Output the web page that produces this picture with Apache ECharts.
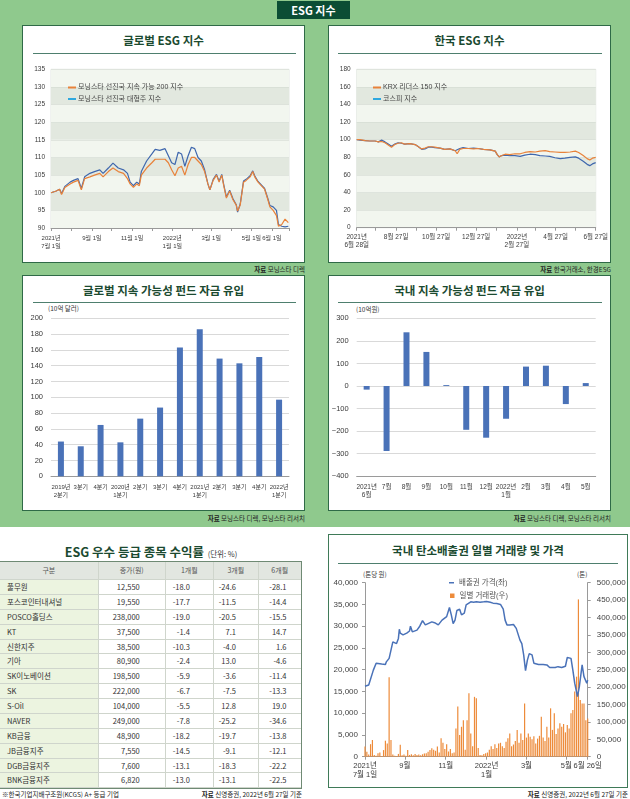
<!DOCTYPE html>
<html><head><meta charset="utf-8">
<script src="https://cdn.jsdelivr.net/npm/echarts@6/dist/echarts.min.js"></script>
<style>
body{margin:0;width:630px;height:799px;position:relative;overflow:hidden;background:#fff;font-family:'Noto Sans CJK KR',sans-serif;}
.abs{position:absolute;}
.green{left:0;top:0;width:630px;height:527px;background:#8fc98d;}
.banner{left:277px;top:1px;width:73px;height:18px;background:#0b4d34;color:#fff;font-weight:700;font-size:11px;line-height:18px;text-align:center;}
.box{background:#fff;border:1.5px solid #2f6a47;box-sizing:border-box;}
.ttl{font-weight:700;font-size:11.5px;color:#1b4a30;text-align:center;line-height:14px;}
.rule{height:1px;background:#4e7f6e;}
.src{font-size:6.5px;color:#222;text-align:right;line-height:8px;white-space:nowrap;}
.unit{font-size:6.5px;color:#333;line-height:8px;white-space:nowrap;}
#chart{left:0;top:0;width:630px;height:799px;}
table{border-collapse:collapse;table-layout:fixed;font-size:7.5px;color:#333;}
td,th{padding:0;border-bottom:1px solid #cfd5cc;border-left:1px solid #cfd5cc;white-space:nowrap;font-weight:400;overflow:hidden;}
td{height:13.87px;line-height:13.87px;}
th{background:#e2e6e0;height:17px;line-height:17px;color:#555;font-size:7px;text-align:center;}
td.nm{background:#ecf4e0;text-align:left;padding-left:7px;border-left:none;}
th.nm{border-left:none;}
td.num{text-align:right;}
</style></head>
<body>
<div class="abs green"></div>
<div class="abs banner">ESG 지수</div>

<div class="abs box" style="left:22px;top:25px;width:283px;height:238px"></div>
<div class="abs ttl" style="left:22px;top:33px;width:283px">글로벌 ESG 지수</div>
<div class="abs rule" style="left:33px;top:53px;width:263px"></div>
<div class="abs src" style="left:105px;top:265px;width:200px"><b>자료</b> 모닝스타 디렉</div>

<div class="abs box" style="left:328px;top:25px;width:283px;height:238px"></div>
<div class="abs ttl" style="left:328px;top:33px;width:283px">한국 ESG 지수</div>
<div class="abs rule" style="left:338px;top:53px;width:264px"></div>
<div class="abs src" style="left:411px;top:265px;width:200px"><b>자료</b> 한국거래소, 한경ESG</div>

<div class="abs box" style="left:22px;top:275px;width:283px;height:236px"></div>
<div class="abs ttl" style="left:22px;top:283px;width:283px">글로벌 지속 가능성 펀드 자금 유입</div>
<div class="abs rule" style="left:33px;top:302px;width:263px"></div>
<div class="abs unit" style="left:48px;top:304px">(10억 달러)</div>
<div class="abs src" style="left:105px;top:514px;width:200px"><b>자료</b> 모닝스타 디렉, 모닝스타 리서치</div>

<div class="abs box" style="left:328px;top:275px;width:283px;height:236px"></div>
<div class="abs ttl" style="left:328px;top:283px;width:283px">국내 지속 가능성 펀드 자금 유입</div>
<div class="abs rule" style="left:338px;top:302px;width:264px"></div>
<div class="abs unit" style="left:356px;top:305px">(10억원)</div>
<div class="abs src" style="left:411px;top:514px;width:200px"><b>자료</b> 모닝스타 디렉, 모닝스타 리서치</div>

<div class="abs" style="left:0;top:542px;width:302px;text-align:center;white-space:nowrap;line-height:16px"><span style="font-weight:700;font-size:12.5px;color:#1b4a30">ESG 우수 등급 종목 수익률</span> <span style="font-size:7.5px;color:#333">(단위: %)</span></div>
<div class="abs" id="tbl" style="left:0;top:561px;width:302px;border-top:1.5px solid #6f8a74;border-right:1.5px solid #6f8a74;border-bottom:1.5px solid #6f8a74;box-sizing:border-box"></div>
<div class="abs src" style="left:2px;top:790px;text-align:left">※한국기업지배구조원(KCGS) A+ 등급 기업</div>
<div class="abs src" style="left:102px;top:790px;width:200px"><b>자료</b> 신영증권, 2022년 6월 27일 기준</div>

<div class="abs box" style="left:328px;top:534px;width:300px;height:254px;border-color:#3f7a58"></div>
<div class="abs ttl" style="left:328px;top:543px;width:300px">국내 탄소배출권 일별 거래량 및 가격</div>
<div class="abs rule" style="left:338px;top:563px;width:280px"></div>
<div class="abs unit" style="left:363px;top:570px">(톤당 원)</div>
<div class="abs unit" style="left:577px;top:570px">(톤)</div>
<div class="abs src" style="left:428px;top:790px;width:200px"><b>자료</b> 신영증권, 2022년 6월 27일 기준</div>

<div class="abs" id="chart"></div>

<script>
// ---------- Chart 1: 글로벌 ESG 지수 ----------
const g1Dates = ['2021-07-01','2021-07-09','2021-07-14','2021-07-17','2021-07-22','2021-07-30','2021-08-04','2021-08-11','2021-08-16','2021-08-21','2021-08-29','2021-09-05','2021-09-13','2021-09-18','2021-09-26','2021-10-03','2021-10-11','2021-10-19','2021-10-25','2021-10-29','2021-11-03','2021-11-08','2021-11-12','2021-11-15','2021-11-23','2021-12-01','2021-12-06','2021-12-13','2021-12-21','2021-12-26','2021-12-31','2022-01-05','2022-01-10','2022-01-15','2022-01-20','2022-01-25','2022-01-30','2022-02-04','2022-02-09','2022-02-14','2022-02-19','2022-02-24','2022-02-27','2022-03-04','2022-03-09','2022-03-13','2022-03-17','2022-03-20','2022-03-24','2022-03-29','2022-04-03','2022-04-08','2022-04-10','2022-04-14','2022-04-17','2022-04-19','2022-04-23','2022-04-29','2022-05-03','2022-05-06','2022-05-11','2022-05-16','2022-05-21','2022-05-26','2022-05-29','2022-06-03','2022-06-08','2022-06-11','2022-06-16','2022-06-21','2022-06-26'];
const g1Sustain200 = [100.0,100.5,101.0,99.5,101.5,102.5,103.0,103.5,100.8,104.0,104.5,105.0,105.5,104.5,106.0,107.0,106.0,105.5,104.0,102.5,101.5,102.5,102.0,105.0,107.0,108.5,109.5,109.5,109.5,108.5,106.5,104.8,107.0,107.5,105.0,108.0,110.0,110.0,109.0,108.0,106.0,102.5,100.8,103.5,105.0,103.0,105.0,102.0,98.5,100.5,98.0,96.5,94.8,96.5,97.0,103.0,103.5,104.5,106.0,104.5,103.0,102.0,101.0,98.0,96.0,95.0,93.5,90.5,91.0,92.5,91.5];
const g1LargeCap = [100.0,100.5,101.0,99.8,101.8,103.0,103.5,104.0,101.2,104.5,105.5,106.0,106.5,105.5,107.0,108.4,107.0,106.5,105.5,103.0,102.0,103.0,102.5,106.0,109.0,111.0,112.3,112.0,112.5,110.5,108.5,108.0,111.5,111.0,107.5,110.5,112.9,112.5,110.0,109.0,106.5,102.5,100.8,103.8,105.2,103.3,105.2,102.3,98.8,100.7,98.3,96.6,94.5,96.8,97.2,103.3,103.8,104.8,106.2,104.8,103.2,102.2,101.2,98.3,96.4,96.0,95.0,91.0,90.5,90.3,90.5];
const g1TickDates = ['2021-07-01','2021-08-01','2021-09-01','2021-10-01','2021-11-01','2021-12-01','2022-01-01','2022-02-01','2022-03-01','2022-04-01','2022-05-01','2022-06-01','2022-06-27'];
const g1LabelDates = ['2021-07-01','2021-09-01','2021-11-01','2022-01-01','2022-03-01','2022-05-01','2022-06-01','2022-06-27'];
const g1Labels = ['2021년\n7월 1일','9월 1일','11월 1일','2022년\n1월 1일','3월 1일','5월 1일','6월 1일',''];
const g1Names = ['모닝스타 선진국 지속 가능 200 지수','모닝스타 선진국 대형주 지수'];

// ---------- Chart 2: 한국 ESG 지수 ----------
const k2Dates = ['2021-06-28','2021-07-03','2021-07-11','2021-07-18','2021-07-26','2021-07-31','2021-08-05','2021-08-10','2021-08-15','2021-08-20','2021-08-25','2021-08-30','2021-09-04','2021-09-09','2021-09-17','2021-09-25','2021-09-30','2021-10-05','2021-10-10','2021-10-15','2021-10-20','2021-10-25','2021-11-02','2021-11-09','2021-11-17','2021-11-25','2021-11-28','2021-12-02','2021-12-07','2021-12-15','2021-12-23','2021-12-30','2022-01-07','2022-01-17','2022-01-25','2022-01-28','2022-01-31','2022-02-04','2022-02-09','2022-02-16','2022-02-24','2022-03-04','2022-03-11','2022-03-19','2022-03-27','2022-04-03','2022-04-11','2022-04-18','2022-04-26','2022-05-04','2022-05-11','2022-05-19','2022-05-27','2022-06-01','2022-06-08','2022-06-14','2022-06-18','2022-06-22','2022-06-27'];
const k2Leaders150 = [100,100,99,98.5,98.5,97.5,98,96.5,94,91.5,94.5,96,96.5,95,95.5,94.5,92,89.5,90.5,92,92,91.5,90.5,89,89.5,87.5,84,89,90,90,89.5,90,89,88.5,87,83,80.5,82,83.5,83,84,84,85.5,86.5,86,87,87.5,86.5,86,85.5,85.5,86,87,85.5,82,78.5,77,79,80];
const k2Kospi = [100,99.5,99,98.5,98.5,97.5,99.5,97.5,95,92.5,95,96.5,96,95,95.5,94.5,92,89,89.5,91.5,91.5,91,90.5,89,89.5,87.5,86.5,90,91,90,90.5,90,89,88.5,87,83,80.5,82,82.5,82,82,81,82.5,83.5,83,82,81.5,81,79.5,78.5,79,80,80.5,79,75.5,72,70.5,72.5,74];
const k2TickDates = ['2021-06-28','2021-07-27','2021-08-27','2021-09-27','2021-10-27','2021-11-27','2021-12-27','2022-01-27','2022-02-27','2022-03-27','2022-04-27','2022-05-27','2022-06-27'];
const k2LabelDates = ['2021-06-28','2021-08-27','2021-10-27','2021-12-27','2022-02-27','2022-04-27','2022-06-27'];
const k2Labels = ['2021년\n6월 28일','8월 27일','10월 27일','12월 27일','2022년\n2월 27일','4월 27일','6월 27일'];
const k2Names = ['KRX 리더스 150 지수','코스피 지수'];

// ---------- Chart 3: 글로벌 지속 가능성 펀드 자금 유입 ----------
const gfCategories = ['2019년\n2분기','3분기','4분기','2020년\n1분기','2분기','3분기','4분기','2021년\n1분기','2분기','3분기','4분기','2022년\n1분기'];
const gfInflow = [44,38,65,43,73,87,163,186,149,143,151,97];

// ---------- Chart 4: 국내 지속 가능성 펀드 자금 유입 ----------
const dfCategories = ['2021년\n6월','7월','8월','9월','10월','11월','12월','2022년\n1월','2월','3월','4월','5월'];
const dfInflow = [-16,-288,238,151,4,-194,-229,-145,86,90,-80,13];

// ---------- Chart 6: 국내 탄소배출권 ----------
// x = trading-day index from 2021-07-01
const cPriceIdx = [0,4,6,9,12,14,18,22,23,26,28,30,32,34,36,37,38,41,45,48,49,51,56,59,62,65,68,72,75,79,83,85,88,91,93,95,97,99,102,104,107,109,111,114,117,120,124,128,131,135,138,142,146,149,151,153,156,160,163,167,169,171,173,175,177,180,182,187,192,196,199,201,205,208,212,216,218,222,224,226,229,231,234,236,239,240];
const cPrice = [16200,16500,16900,19900,21500,21800,21300,21200,21800,22600,22800,26400,26700,26000,27200,29300,28400,28000,28400,28900,30000,28700,29100,30000,31300,30300,30600,31000,30800,30300,31400,31600,32200,34300,32600,30600,31400,33600,33900,32600,33000,34900,35200,35600,35500,35600,35500,35600,35700,35500,35300,35200,35000,33900,31400,30300,30300,30400,29500,26800,26000,23400,19800,22200,23700,23400,21500,21200,21200,21100,20500,20800,20500,20700,20500,20800,22800,22600,19900,16900,13800,16100,21100,18400,16900,17600];
// one bar every 2 trading days (index 0,2,4,...,240), tons
const cVolume = [29000,14000,6000,36000,48000,5000,3000,10000,12000,2000,19000,46000,38000,228000,48000,6000,3000,2000,8000,34000,4000,6000,3000,19000,5000,7000,4000,8000,5000,6000,4000,7000,9000,10000,14000,19000,24000,20000,17000,29000,12000,53000,40000,22000,36000,15000,22000,10000,12000,81000,144000,62000,86000,105000,20000,105000,182000,67000,30000,172000,168000,25000,5000,4000,8000,10000,12000,20000,30000,22000,36000,25000,38000,40000,30000,25000,43000,53000,67000,30000,35000,45000,77000,40000,67000,48000,153000,55000,67000,57000,50000,59000,38000,52000,60000,115000,55000,45000,86000,55000,139000,77000,125000,65000,81000,96000,86000,94000,70000,91000,81000,125000,134000,187000,230000,452000,163000,153000,153000,105000,110000];
const cTickIdx = [0,43,87,131,174,217,240];
const cTickLabels = ['2021년\n7월 1일','9월','11월','2022년\n1월','3월','5월','6월 26일'];
const cNames = ['배출권 가격(좌)','일별 거래량(우)'];

// ---------- Table ----------
const tHeader = ['구분','종가(원)','1개월','3개월','6개월'];
const tNames = ['풀무원','포스코인터내셔널','POSCO홀딩스','KT','신한지주','기아','SK이노베이션','SK','S-Oil','NAVER','KB금융','JB금융지주','DGB금융지주','BNK금융지주'];
const tClose = ['12,550','19,550','238,000','37,500','38,500','80,900','198,500','222,000','104,000','249,000','48,900','7,550','7,600','6,820'];
const tRet1m = [-18.0,-17.7,-19.0,-1.4,-10.3,-2.4,-5.9,-6.7,-5.5,-7.8,-18.2,-14.5,-13.1,-13.0];
const tRet3m = [-24.6,-11.5,-20.5,7.1,-4.0,13.0,-3.6,-7.5,12.8,-25.2,-19.7,-9.1,-18.3,-13.1];
const tRet6m = [-28.1,-14.4,-15.5,14.7,1.6,-4.6,-11.4,-13.3,19.0,-34.6,-13.8,-12.1,-22.2,-22.5];

(function(){
  const colW = [98,67,48,45,42];
  const padR = [0,25,23,22,14];
  let h = '<table style="width:300.5px"><colgroup>' + colW.map(w=>'<col style="width:'+w+'px">').join('') + '</colgroup>';
  h += '<tr>' + tHeader.map((t,i)=>'<th'+(i===0?' class="nm"':'')+'>'+t+'</th>').join('') + '</tr>';
  tNames.forEach((n,r)=>{
    const cells = [tClose[r], tRet1m[r].toFixed(1), tRet3m[r].toFixed(1), tRet6m[r].toFixed(1)];
    h += '<tr><td class="nm">'+n+'</td>' + cells.map((c,i)=>'<td class="num" style="padding-right:'+padR[i+1]+'px">'+c+'</td>').join('') + '</tr>';
  });
  h += '</table>';
  document.getElementById('tbl').innerHTML = h;
})();

const ts = s => { const p = s.split('-').map(Number); return new Date(p[0], p[1]-1, p[2]).getTime(); };
const lookup = (keys, labels) => { const m = new Map(); keys.forEach((k,i)=>m.set(k, labels[i])); return v => (m.has(v) ? m.get(v) : ''); };
const FONT = "'Liberation Sans','Noto Sans CJK KR',sans-serif";
const LBL = {fontSize:6.5, color:'#3a3a3a', fontFamily:FONT};
const comma = v => v.toLocaleString('en-US');

const g1TickTs = g1TickDates.map(ts), g1LabTs = g1LabelDates.map(ts);
const k2TickTs = k2TickDates.map(ts), k2LabTs = k2LabelDates.map(ts);

function lineAxisX(grid, minD, maxD, tickTs, labTs, labels, fs){
  return {type:'value', gridIndex:grid, min:ts(minD), max:ts(maxD), splitLine:{show:false},
    axisLine:{lineStyle:{color:'#9a9a9a', width:1}},
    axisTick:{show:true, customValues:tickTs, length:3, lineStyle:{color:'#9a9a9a'}},
    axisLabel:Object.assign({customValues:labTs, formatter:lookup(labTs, labels), margin:6, lineHeight:8, hideOverlap:false}, LBL, {fontSize:fs})};
}
function bandAxisY(grid, min, max, interval){
  return {type:'value', gridIndex:grid, min:min, max:max, interval:interval,
    axisLine:{show:false}, axisTick:{show:false},
    axisLabel:Object.assign({margin:6}, LBL),
    splitLine:{show:true, lineStyle:{color:'#d4dad2', width:0.6}},
    splitArea:{show:true, areaStyle:{color:['#f2f6ef','#e2e8df']}}};
}

const chart = echarts.init(document.getElementById('chart'), null, {renderer:'canvas'});
chart.setOption({
  animation:false,
  backgroundColor:'transparent',
  grid:[
    {left:51, top:69.3, width:238, height:158.7, show:true, borderColor:'#cfd5cc', borderWidth:0.6, backgroundColor:'transparent'},
    {left:356.7, top:69.3, width:239, height:158.4, show:true, borderColor:'#cfd5cc', borderWidth:0.6, backgroundColor:'transparent'},
    {left:51, top:318.3, width:238, height:158},
    {left:356.7, top:318.3, width:239, height:158},
    {left:365, top:582.7, width:222.7, height:174}
  ],
  legend:[
    {left:63, top:79, orient:'vertical', icon:'rect', itemWidth:8, itemHeight:2, itemGap:4.5, textStyle:{fontSize:7, color:'#444', fontFamily:FONT, padding:[0,0,0,-3]},
      data:[{name:g1Names[0], itemStyle:{color:'#e8823a'}},{name:g1Names[1], itemStyle:{color:'#2fa8df'}}]},
    {left:368, top:79, orient:'vertical', icon:'rect', itemWidth:8, itemHeight:2, itemGap:4.5, textStyle:{fontSize:7, color:'#444', fontFamily:FONT, padding:[0,0,0,-3]},
      data:[{name:k2Names[0], itemStyle:{color:'#e8823a'}},{name:k2Names[1], itemStyle:{color:'#2fa8df'}}]},
    {left:444, top:574, orient:'vertical', icon:'rect', itemWidth:5, itemHeight:1.5, textStyle:{fontSize:7.5, color:'#555', fontFamily:FONT}, data:[{name:cNames[0], itemStyle:{color:'#4a72b8'}}]},
    {left:445, top:587, orient:'vertical', icon:'rect', itemWidth:4.5, itemHeight:4.5, textStyle:{fontSize:7.5, color:'#555', fontFamily:FONT}, data:[{name:cNames[1], itemStyle:{color:'#ed8b3a'}}]}
  ],
  xAxis:[
    lineAxisX(0,'2021-07-01','2022-06-27', g1TickTs, g1LabTs, g1Labels, 6),
    lineAxisX(1,'2021-06-28','2022-06-27', k2TickTs, k2LabTs, k2Labels, 6.5),
    {type:'category', gridIndex:2, data:gfCategories, axisLine:{lineStyle:{color:'#9a9a9a'}}, axisTick:{length:4, lineStyle:{color:'#9a9a9a'}}, axisLabel:Object.assign({margin:7, lineHeight:8, interval:0}, LBL, {fontSize:6})},
    {type:'category', gridIndex:3, data:dfCategories, position:'bottom', axisLine:{onZero:false, lineStyle:{color:'#9a9a9a'}}, axisTick:{length:4, lineStyle:{color:'#9a9a9a'}}, axisLabel:Object.assign({margin:7, lineHeight:8, interval:0}, LBL, {fontSize:6.5})},
    {type:'value', gridIndex:4, min:0, max:240, splitLine:{show:false}, axisLine:{lineStyle:{color:'#9a9a9a'}},
      axisTick:{customValues:cTickIdx, length:3, lineStyle:{color:'#9a9a9a'}},
      axisLabel:Object.assign({customValues:cTickIdx, formatter:lookup(cTickIdx, cTickLabels), margin:5, lineHeight:9, hideOverlap:false}, LBL, {fontSize:7.5})}
  ],
  yAxis:[
    bandAxisY(0, 90, 135, 5),
    bandAxisY(1, 0, 180, 20),
    {type:'value', gridIndex:2, min:0, max:200, interval:20, axisLine:{show:false}, axisTick:{show:false}, axisLabel:Object.assign({margin:8}, LBL, {fontSize:7.5}), splitLine:{lineStyle:{color:'#cfcfcf', width:0.8}}},
    {type:'value', gridIndex:3, min:-400, max:300, interval:100, axisLine:{show:false}, axisTick:{show:false}, axisLabel:Object.assign({margin:8, formatter:v=>(v<0?'\u2212'+(-v):String(v))}, LBL, {fontSize:7.5}), splitLine:{lineStyle:{color:'#cfcfcf', width:0.8}}},
    {type:'value', gridIndex:4, min:0, max:40000, interval:5000, position:'left', splitLine:{show:false}, axisLine:{show:true, lineStyle:{color:'#9a9a9a'}}, axisTick:{show:true, length:3, lineStyle:{color:'#9a9a9a'}}, axisLabel:Object.assign({margin:7, formatter:comma}, LBL, {fontSize:8, color:'#444'})},
    {type:'value', gridIndex:4, min:0, max:500000, interval:50000, position:'right', splitLine:{show:false}, axisLine:{show:true, lineStyle:{color:'#9a9a9a'}}, axisTick:{show:true, length:3, lineStyle:{color:'#9a9a9a'}}, axisLabel:Object.assign({margin:9, formatter:comma}, LBL, {fontSize:8, color:'#444'})}
  ],
  series:[
    {name:g1Names[1], type:'line', xAxisIndex:0, yAxisIndex:0, symbol:'none', lineStyle:{color:'#3f67ad', width:1.2}, itemStyle:{color:'#2fa8df'}, data:g1Dates.map((d,i)=>[ts(d), g1LargeCap[i]])},
    {name:g1Names[0], type:'line', xAxisIndex:0, yAxisIndex:0, symbol:'none', lineStyle:{color:'#e8823a', width:1.2}, itemStyle:{color:'#e8823a'}, data:g1Dates.map((d,i)=>[ts(d), g1Sustain200[i]])},
    {name:k2Names[1], type:'line', xAxisIndex:1, yAxisIndex:1, symbol:'none', lineStyle:{color:'#3f67ad', width:1.2}, itemStyle:{color:'#2fa8df'}, data:k2Dates.map((d,i)=>[ts(d), k2Kospi[i]])},
    {name:k2Names[0], type:'line', xAxisIndex:1, yAxisIndex:1, symbol:'none', lineStyle:{color:'#e8823a', width:1.2}, itemStyle:{color:'#e8823a'}, data:k2Dates.map((d,i)=>[ts(d), k2Leaders150[i]])},
    {type:'bar', xAxisIndex:2, yAxisIndex:2, barWidth:6, itemStyle:{color:'#4a72b8'}, data:gfInflow},
    {type:'bar', xAxisIndex:3, yAxisIndex:3, barWidth:6, itemStyle:{color:'#4a72b8'}, data:dfInflow},
    {name:cNames[1], type:'bar', xAxisIndex:4, yAxisIndex:5, barWidth:1.2, itemStyle:{color:'#ed8b3a'}, data:cVolume.map((v,i)=>[i*2, v])},
    {name:cNames[0], type:'line', xAxisIndex:4, yAxisIndex:4, symbol:'none', z:5, lineStyle:{color:'#4a72b8', width:1.5}, itemStyle:{color:'#4a72b8'}, data:cPriceIdx.map((x,i)=>[x, cPrice[i]])}
  ]
});
</script>
</body></html>
